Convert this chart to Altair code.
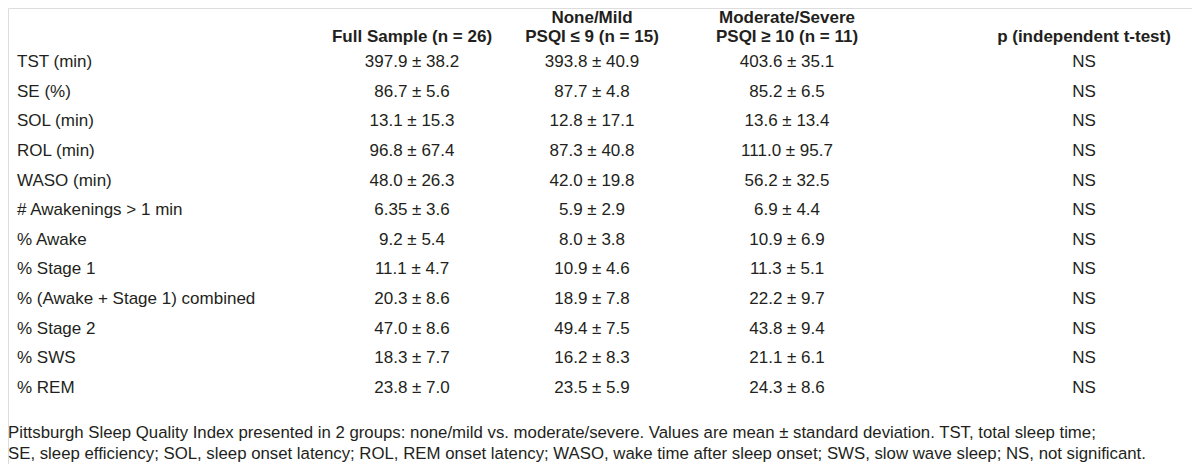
import altair as alt
import pandas as pd

row_labels = ["TST (min)", "SE (%)", "SOL (min)", "ROL (min)", "WASO (min)",
              "# Awakenings > 1 min", "% Awake", "% Stage 1",
              "% (Awake + Stage 1) combined", "% Stage 2", "% SWS", "% REM"]
full_sample = ["397.9 ± 38.2", "86.7 ± 5.6", "13.1 ± 15.3", "96.8 ± 67.4", "48.0 ± 26.3",
               "6.35 ± 3.6", "9.2 ± 5.4", "11.1 ± 4.7", "20.3 ± 8.6", "47.0 ± 8.6",
               "18.3 ± 7.7", "23.8 ± 7.0"]
none_mild = ["393.8 ± 40.9", "87.7 ± 4.8", "12.8 ± 17.1", "87.3 ± 40.8", "42.0 ± 19.8",
             "5.9 ± 2.9", "8.0 ± 3.8", "10.9 ± 4.6", "18.9 ± 7.8", "49.4 ± 7.5",
             "16.2 ± 8.3", "23.5 ± 5.9"]
mod_severe = ["403.6 ± 35.1", "85.2 ± 6.5", "13.6 ± 13.4", "111.0 ± 95.7", "56.2 ± 32.5",
              "6.9 ± 4.4", "10.9 ± 6.9", "11.3 ± 5.1", "22.2 ± 9.7", "43.8 ± 9.4",
              "21.1 ± 6.1", "24.3 ± 8.6"]
p_values = ["NS"] * 12

header_line1 = ["", "None/Mild", "Moderate/Severe", ""]
header_line2 = ["Full Sample (n = 26)", "PSQI ≤ 9 (n = 15)", "PSQI ≥ 10 (n = 11)", "p (independent t-test)"]
footnote = [
    "Pittsburgh Sleep Quality Index presented in 2 groups: none/mild vs. moderate/severe. Values are mean ± standard deviation. TST, total sleep time;",
    "SE, sleep efficiency; SOL, sleep onset latency; ROL, REM onset latency; WASO, wake time after sleep onset; SWS, slow wave sleep; NS, not significant.",
]

FONT = "Liberation Sans, Arial, sans-serif"
COLOR = "#231f20"
FS = 17

# layout positions (chart pixels)
col_x = [404, 584, 779, 1076]
header_y = [15, 34]      # baselines
foot_y = [430, 451]      # baselines
col_vals = [full_sample, none_mild, mod_severe, p_values]

yscale = alt.Scale(domain=row_labels, range=[54, 380], padding=0)

layers = []
lab_df = pd.DataFrame({"row": row_labels, "text": row_labels})
layers.append(
    alt.Chart(lab_df).mark_text(font=FONT, fontSize=FS, color=COLOR, align="left", baseline="middle").encode(
        x=alt.value(9),
        y=alt.Y("row:N", scale=yscale, axis=None),
        text="text:N",
    )
)
for cx, vals, h1, h2 in zip(col_x, col_vals, header_line1, header_line2):
    df = pd.DataFrame({"row": row_labels, "text": vals})
    layers.append(
        alt.Chart(df).mark_text(font=FONT, fontSize=FS, color=COLOR, align="center", baseline="middle").encode(
            x=alt.value(cx),
            y=alt.Y("row:N", scale=yscale, axis=None),
            text="text:N",
        )
    )
    for hy, ht in zip(header_y, [h1, h2]):
        if not ht:
            continue
        layers.append(
            alt.Chart(pd.DataFrame({"text": [ht]})).mark_text(
                font=FONT, fontSize=FS, fontWeight="bold", color=COLOR, align="center", baseline="alphabetic"
            ).encode(x=alt.value(cx), y=alt.value(hy), text="text:N")
        )

for fy, ft in zip(foot_y, footnote):
    layers.append(
        alt.Chart(pd.DataFrame({"text": [ft]})).mark_text(
            font=FONT, fontSize=16.8, color=COLOR, align="left", baseline="alphabetic"
        ).encode(x=alt.value(0), y=alt.value(fy), text="text:N")
    )

chart = alt.layer(*layers).properties(
    width=1184, height=456, padding=0, autosize=alt.AutoSizeParams(type="none")
).configure_view(strokeWidth=0).configure(background="white")

chart.save("out.html", embed_options={"renderer": "svg", "actions": False})
